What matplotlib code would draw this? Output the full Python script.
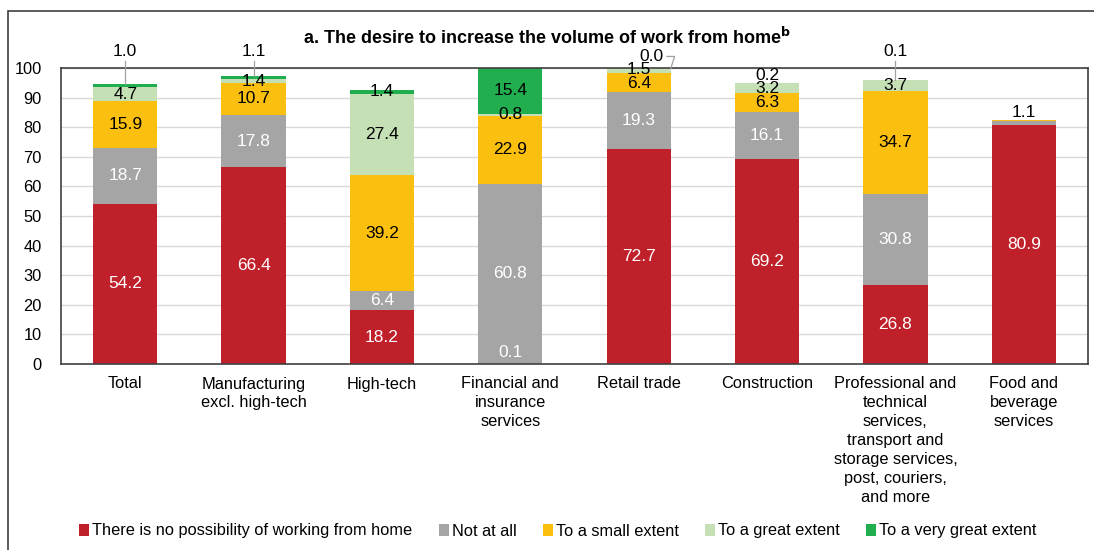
import numpy as np
import matplotlib.pyplot as plt
from matplotlib.patches import Rectangle

plt.rcParams['font.family'] = ['Liberation Sans', 'DejaVu Sans']

categories = ["Total", "Manufacturing\nexcl. high-tech", "High-tech",
              "Financial and\ninsurance\nservices", "Retail trade", "Construction",
              "Professional and\ntechnical\nservices,\ntransport and\nstorage services,\npost, couriers,\nand more",
              "Food and\nbeverage\nservices"]
series_names = ["There is no possibility of working from home", "Not at all",
                "To a small extent", "To a great extent", "To a very great extent"]
no_possibility = [54.2, 66.4, 18.2, 0.1, 72.7, 69.2, 26.8, 80.9]
not_at_all = [18.7, 17.8, 6.4, 60.8, 19.3, 16.1, 30.8, 1.1]
small_extent = [15.9, 10.7, 39.2, 22.9, 6.4, 6.3, 34.7, 0.3]
great_extent = [4.7, 1.4, 27.4, 0.8, 1.5, 3.2, 3.7, 0.0]
very_great = [1.0, 1.1, 1.4, 15.4, 0.0, 0.2, 0.1, 0.0]

colors = ["#C0202A", "#A5A5A5", "#FBBF10", "#C5E0B4", "#21AE4F"]
text_colors = ["white", "white", "black", "black", "black"]
fs = 12.5

fig = plt.figure(figsize=(10.94, 5.5), dpi=100)
ax = fig.add_axes([61/1094, 1-364/550, 1027/1094, 296/550])
fig.patches.append(Rectangle((8/1094, -0.1), 1.2, 1-11/550+0.1, transform=fig.transFigure,
                             fill=False, ec="#404040", lw=1.2))

data = [no_possibility, not_at_all, small_extent, great_extent, very_great]
x = np.arange(len(categories))
bottom = np.zeros(len(categories))
for i, vals in enumerate(data):
    vals = np.array(vals)
    ax.bar(x, vals, 0.5, bottom=bottom, color=colors[i], label=series_names[i], zorder=2)
    for j, v in enumerate(vals):
        if v == 0 and not (i == 4 and j == 4):
            continue
        top = bottom[j] + v
        ypos = bottom[j] + v/2
        # labels moved out of the bar with a leader line
        if i == 4 and j in (0, 1, 6):
            ax.plot([j, j], [top, 102.5], color="#A0A0A0", lw=0.9, clip_on=False, zorder=3)
            ax.text(j, 103.0, f"{v:.1f}", ha="center", va="bottom", fontsize=fs, clip_on=False)
            continue
        if i == 4 and j == 4:
            ax.plot([j + 0.22, j + 0.28, j + 0.25], [103.9, 103.9, top], color="#A0A0A0",
                    lw=0.9, clip_on=False, zorder=3)
            ax.text(j + 0.1, 103.9, "0.0", ha="center", va="center", fontsize=fs, clip_on=False)
            continue
        if i == 4 and j == 5:
            ypos = 97.6
        if i == 3 and j == 4:
            ypos = 99.6
        if i == 2 and j == 4:
            ypos = 94.9
        if i == 1 and j == 7:
            ax.text(j, top + 0.3, f"{v:.1f}", ha="center", va="bottom", fontsize=fs)
            continue
        if i == 2 and j == 7:
            continue
        if i == 0 and j == 3:
            ypos = 3.8
        ax.text(j, ypos, f"{v:.1f}", ha="center", va="center", fontsize=fs,
                color=text_colors[i], zorder=4)
    bottom += vals

ax.set_xlim(-0.5, 7.5)
ax.set_ylim(0, 100)
ax.set_yticks(np.arange(0, 101, 10))
ax.set_xticks(x)
ax.set_xticklabels(categories, fontsize=11.8, linespacing=1.33, va="top")
ax.tick_params(axis="both", length=0, labelsize=11.8)
ax.tick_params(axis="x", pad=9)
ax.tick_params(axis="y", pad=14)
ax.grid(axis="y", color="#D9D9D9", lw=1, zorder=0)
for s in ax.spines.values():
    s.set_color("#404040")
    s.set_linewidth(1.2)

fig.text(0.5, 1-37/550, r"a. The desire to increase the volume of work from home$^{\mathbf{b}}$",
         ha="center", va="center", fontsize=13, fontweight="bold")

fig.legend(loc="center", bbox_to_anchor=(0.51, 1-531/550), ncol=5, frameon=False,
           fontsize=11.8, handlelength=0.6, handleheight=0.8, handletextpad=0.2,
           columnspacing=1.6)

plt.savefig("out.png", dpi=100)
